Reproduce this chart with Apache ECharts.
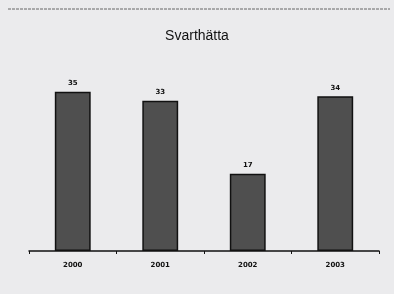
<!DOCTYPE html>
<html>
<head>
<meta charset="utf-8">
<script src="https://cdn.jsdelivr.net/npm/echarts@6/dist/echarts.min.js"></script>
<style>
  html, body { margin: 0; padding: 0; background: #ebebed; }
  #chart { width: 394px; height: 294px; }
</style>
</head>
<body>
<div id="chart"></div>
<script>
var years = ['2000', '2001', '2002', '2003'];
var counts = [35, 33, 17, 34];

var chart = echarts.init(document.getElementById('chart'));
var option = {
  backgroundColor: '#ebebed',
  animation: false,
  title: {
    text: 'Svarthätta',
    left: 'center',
    top: 24,
    textStyle: { fontFamily: 'Liberation Sans', fontWeight: 'normal', fontSize: 14, color: '#111' }
  },
  graphic: [{
    type: 'line',
    shape: { x1: 8, y1: 9, x2: 390, y2: 9 },
    style: { stroke: '#666', lineWidth: 1, lineDash: [3, 1] }
  }],
  grid: { left: 29, right: 15, top: 69, bottom: 43 },
  xAxis: {
    type: 'category',
    data: years,
    axisLine: { lineStyle: { color: '#111', width: 1.5 } },
    axisTick: { show: true, length: 3, lineStyle: { color: '#111' } },
    axisLabel: { margin: 11, fontFamily: 'DejaVu Sans', fontWeight: 'bold', fontSize: 7, color: '#111' }
  },
  yAxis: {
    type: 'value',
    min: 0,
    max: 40,
    show: false,
    splitLine: { show: false }
  },
  series: [{
    type: 'bar',
    data: counts,
    barWidth: '41%',
    itemStyle: { color: '#4f4f4f', borderColor: '#111', borderWidth: 1.5 },
    label: {
      show: true,
      position: 'top',
      distance: 5,
      fontFamily: 'DejaVu Sans',
      fontWeight: 'bold',
      fontSize: 7,
      color: '#111'
    }
  }]
};
chart.setOption(option);
</script>
</body>
</html>
